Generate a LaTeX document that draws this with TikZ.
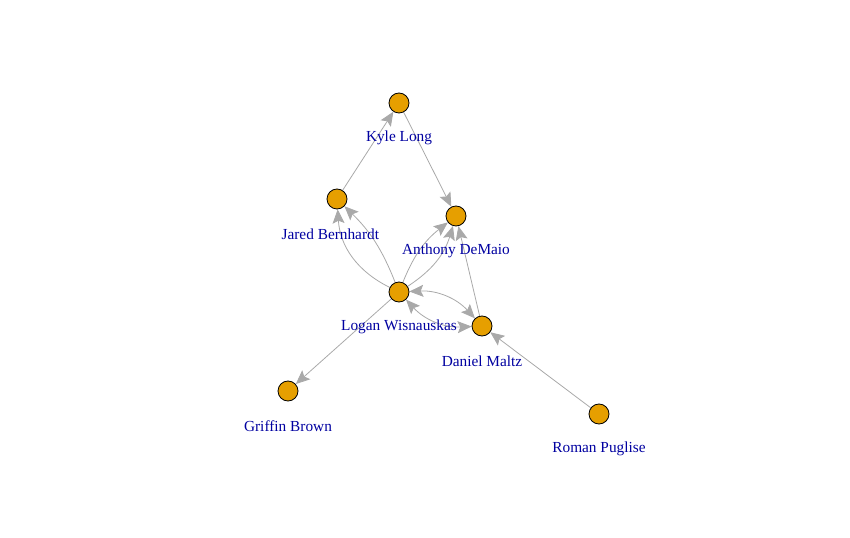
\documentclass[tikz,border=0pt]{standalone}
\usepackage{fontspec}
\setmainfont{Liberation Serif}
\usepackage{tikz}
\usetikzlibrary{arrows.meta, positioning, backgrounds}
\usepackage{xcolor}
\definecolor{vorange}{HTML}{E69F00}
\definecolor{edgegray}{HTML}{A9A9A9}
\definecolor{lblblue}{HTML}{0000A0}

\begin{document}
\begin{tikzpicture}[
  x=0.75pt, y=-0.75pt,
  >={Stealth[length=10.5pt, width=9pt, inset=2pt]},
  vtx/.style={circle, draw=black, fill=vorange, minimum size=15pt,
    inner sep=0pt, line width=0.6pt},
  lbl/.style={text=lblblue, font=\fontsize{11.5}{13}\selectfont, yshift=-26.5pt},
  edge/.style={->, draw=edgegray, line width=0.6pt},
  biedge/.style={<->, draw=edgegray, line width=0.6pt},
]
  \useasboundingbox (0,0) rectangle (850,538);

  % players
  \node[vtx, label={[lbl]center:Kyle Long}] (kyle) at (399,103) {};
  \node[vtx, label={[lbl, xshift=-5pt]center:Jared Bernhardt}] (jared) at (337,199) {};
  \node[vtx, label={[lbl]center:Anthony DeMaio}] (anthony) at (456,216) {};
  \node[vtx, label={[lbl]center:Logan Wisnauskas}] (logan) at (399,292) {};
  \node[vtx, label={[lbl]center:Daniel Maltz}] (daniel) at (482,326) {};
  \node[vtx, label={[lbl]center:Griffin Brown}] (griffin) at (288,391) {};
  \node[vtx, label={[lbl]center:Roman Puglise}] (roman) at (599,414) {};

  % passes
  \begin{scope}[on background layer]
    \draw[edge] (jared) -- (kyle);
    \draw[edge] (kyle) -- (anthony);
    \draw[edge] (logan) to[bend left=30] (jared);
    \draw[edge] (logan) to[bend right=12] (jared);
    \draw[edge] (logan) to[bend left=15] (anthony);
    \draw[edge] (logan) to[bend right=20] (anthony);
    \draw[biedge] (logan) to[bend left=25] (daniel);
    \draw[biedge] (logan) to[bend right=25] (daniel);
    \draw[edge] (daniel) -- (anthony);
    \draw[edge] (logan) -- (griffin);
    \draw[edge] (roman) -- (daniel);
  \end{scope}
\end{tikzpicture}
\end{document}
